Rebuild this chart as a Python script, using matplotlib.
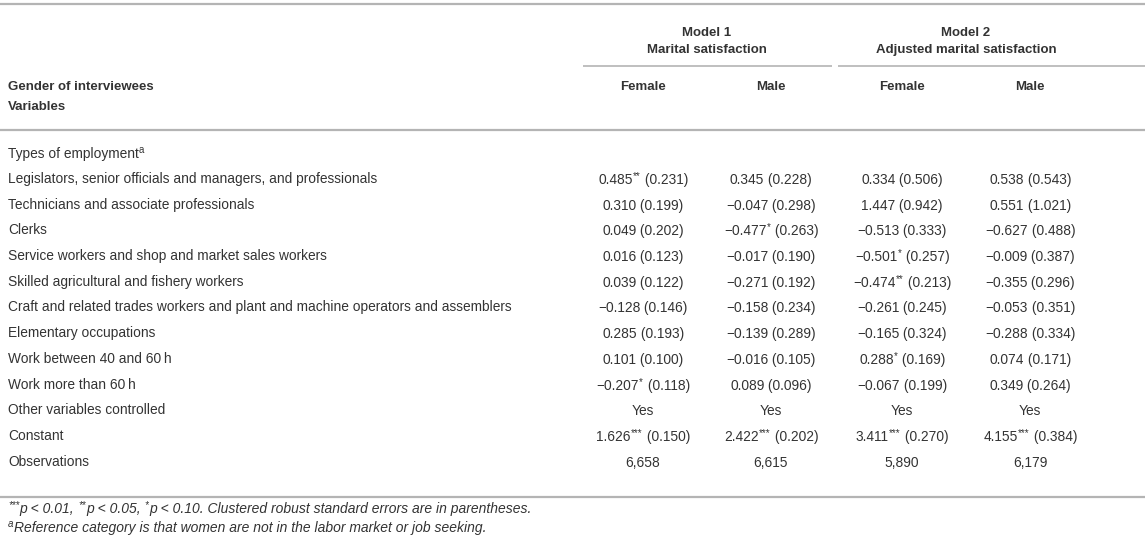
import matplotlib
matplotlib.use("Agg")
import matplotlib.pyplot as plt

plt.rcParams['font.family'] = ['Liberation Sans', 'DejaVu Sans']

# ---- data ----
model_titles = ["Model 1", "Model 2"]
model_subtitles = ["Marital satisfaction", "Adjusted marital satisfaction"]
columns = ["Female", "Male", "Female", "Male"]
row_header = ["Gender of interviewees", "Variables"]
section_label = "Types of employment"
variables = [
    "Legislators, senior officials and managers, and professionals",
    "Technicians and associate professionals",
    "Clerks",
    "Service workers and shop and market sales workers",
    "Skilled agricultural and fishery workers",
    "Craft and related trades workers and plant and machine operators and assemblers",
    "Elementary occupations",
    "Work between 40 and 60\u2009h",
    "Work more than 60\u2009h",
    "Other variables controlled",
    "Constant",
    "Observations",
]
f1 = ["0.485", "0.310", "0.049", "0.016", "0.039", "\u22120.128", "0.285", "0.101", "\u22120.207", "Yes", "1.626", "6,658"]
f1_star = ["**", "", "", "", "", "", "", "", "*", "", "***", ""]
f1_se = ["0.231", "0.199", "0.202", "0.123", "0.122", "0.146", "0.193", "0.100", "0.118", "", "0.150", ""]
m1 = ["0.345", "\u22120.047", "\u22120.477", "\u22120.017", "\u22120.271", "\u22120.158", "\u22120.139", "\u22120.016", "0.089", "Yes", "2.422", "6,615"]
m1_star = ["", "", "*", "", "", "", "", "", "", "", "***", ""]
m1_se = ["0.228", "0.298", "0.263", "0.190", "0.192", "0.234", "0.289", "0.105", "0.096", "", "0.202", ""]
f2 = ["0.334", "1.447", "\u22120.513", "\u22120.501", "\u22120.474", "\u22120.261", "\u22120.165", "0.288", "\u22120.067", "Yes", "3.411", "5,890"]
f2_star = ["", "", "", "*", "**", "", "", "*", "", "", "***", ""]
f2_se = ["0.506", "0.942", "0.333", "0.257", "0.213", "0.245", "0.324", "0.169", "0.199", "", "0.270", ""]
m2 = ["0.538", "0.551", "\u22120.627", "\u22120.009", "\u22120.355", "\u22120.053", "\u22120.288", "0.074", "0.349", "Yes", "4.155", "6,179"]
m2_star = ["", "", "", "", "", "", "", "", "", "", "***", ""]
m2_se = ["0.543", "1.021", "0.488", "0.387", "0.296", "0.351", "0.334", "0.171", "0.264", "", "0.384", ""]
footnote1 = [("***", True), ("p < 0.01, ", False), ("**", True), ("p < 0.05, ", False), ("*", True),
             ("p < 0.10. Clustered robust standard errors are in parentheses.", False)]
footnote2 = [("a", True), ("Reference category is that women are not in the labor market or job seeking.", False)]

# ---- layout ----
W, H = 1145, 540
fig = plt.figure(figsize=(W / 100, H / 100), dpi=100)
ax = fig.add_axes([0, 0, 1, 1])
ax.set_xlim(0, W)
ax.set_ylim(H, 0)
ax.axis('off')
renderer = fig.canvas.get_renderer()

txt = '#333333'
line_c = '#b4b4b4'
fs = 9.9
fsb = 9.5
fsf = 10.0
col_x = [643, 771, 902, 1030]
left_x = 8


def draw_segments(x, y, segs, ha='center', size=fs, style='normal'):
    """segs: list of (text, is_superscript). Draw pieces side by side."""
    arts = []
    widths = []
    for s, sup in segs:
        sz = size * 0.7 if sup else size
        t = ax.text(0, 0, s, fontsize=sz, color=txt, style=style, ha='left',
                    va='baseline')
        bb = t.get_window_extent(renderer)
        arts.append((t, sup))
        widths.append(bb.width)
    total = sum(widths)
    start = x - total / 2 if ha == 'center' else x
    px = size * 100 / 72
    base = y + px * 0.36
    cur = start
    for (t, sup), w in zip(arts, widths):
        yy = base - (px * 0.36 if sup else 0)
        t.set_position((cur, yy))
        cur += w + (0.5 if sup else 0)


ax.plot([0, W], [4, 4], color=line_c, lw=1.6, solid_capstyle='butt')
ax.plot([583, 832], [66, 66], color=line_c, lw=1.2, solid_capstyle='butt')
ax.plot([838, W], [66, 66], color=line_c, lw=1.2, solid_capstyle='butt')
ax.plot([0, W], [130, 130], color=line_c, lw=1.6, solid_capstyle='butt')
ax.plot([0, W], [497, 497], color=line_c, lw=1.6, solid_capstyle='butt')

model_x = [(col_x[0] + col_x[1]) / 2, (col_x[2] + col_x[3]) / 2]
for mx, t, s in zip(model_x, model_titles, model_subtitles):
    ax.text(mx, 33, t, ha='center', va='center', fontsize=fsb, fontweight='bold', color=txt)
    ax.text(mx, 50, s, ha='center', va='center', fontsize=fsb, fontweight='bold', color=txt)
for cx, c in zip(col_x, columns):
    ax.text(cx, 87, c, ha='center', va='center', fontsize=fsb, fontweight='bold', color=txt)
ax.text(left_x, 87, row_header[0], ha='left', va='center', fontsize=fsb, fontweight='bold', color=txt)
ax.text(left_x, 107, row_header[1], ha='left', va='center', fontsize=fsb, fontweight='bold', color=txt)

draw_segments(left_x, 153, [(section_label, False), ("a", True)], ha='left')

y0, dy = 179, 25.7
cols = [(f1, f1_star, f1_se), (m1, m1_star, m1_se), (f2, f2_star, f2_se), (m2, m2_star, m2_se)]
for i, v in enumerate(variables):
    y = y0 + i * dy
    ax.text(left_x, y, v, ha='left', va='center', fontsize=fs, color=txt)
    for cx, (vals, stars, ses) in zip(col_x, cols):
        segs = [(vals[i], False)]
        if stars[i]:
            segs.append((stars[i], True))
        if ses[i]:
            segs.append((" (" + ses[i] + ")", False))
        draw_segments(cx, y, segs)

draw_segments(left_x, 508, footnote1, ha='left', size=fsf, style='italic')
draw_segments(left_x, 527, footnote2, ha='left', size=fsf, style='italic')

fig.savefig("out.png", dpi=100, facecolor='white')
